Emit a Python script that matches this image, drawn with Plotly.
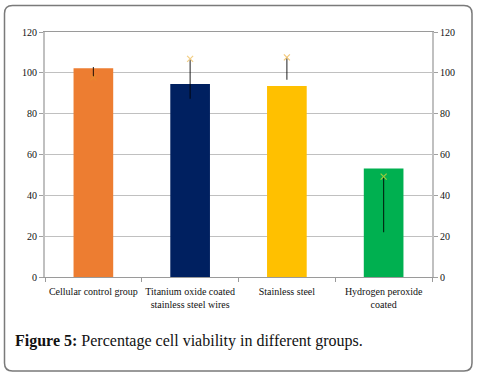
import plotly.graph_objects as go

categories = ["Cellular control group", "Titanium oxide coated<br>stainless steel wires",
              "Stainless steel", "Hydrogen peroxide<br>coated"]
viability = [102.2, 94.5, 93.5, 53.1]
marker_vals = [97.8, 106.8, 107.6, 49.2]
err_plus = [5.0, 0, 0, 0]
err_minus = [0, 19.5, 11.0, 27.3]
bar_colors = ["#ED7D31", "#002060", "#FFC000", "#00B050"]
marker_colors = ["#E88B2E", "#F3CF86", "#F3C97A", "#9CCB3C"]
y_ticks = [0, 20, 40, 60, 80, 100, 120]

W, H = 480, 376
ML, MR, MT, MB = 45, 48, 32, 99
PW, PH = W - ML - MR, H - MT - MB

def px2paper(x, y):
    return (x - ML) / PW, (H - MB - y) / PH

fig = go.Figure()
fig.add_trace(go.Bar(x=categories, y=viability, marker=dict(color=bar_colors, line=dict(width=0)),
                     showlegend=False, hoverinfo="skip"))
fig.add_trace(go.Scatter(x=categories, y=marker_vals, mode="markers",
                         marker=dict(symbol="x-thin", size=6, line=dict(width=1.2, color=marker_colors)),
                         error_y=dict(type="data", symmetric=False, array=err_plus, arrayminus=err_minus,
                                      width=0, thickness=1.1, color="rgba(0,0,0,0.8)"),
                         showlegend=False, hoverinfo="skip"))
fig.add_trace(go.Scatter(x=categories, y=viability, mode="lines", opacity=0, yaxis="y2",
                         showlegend=False, hoverinfo="skip"))

# rounded border
x0, y0, x1, y1, r = 4.5, 5.5, 472, 371, 8
def P(x, y):
    a, b = px2paper(x, y)
    return f"{a:.5f},{b:.5f}"
path = (f"M {P(x0+r,y0)} L {P(x1-r,y0)} Q {P(x1,y0)} {P(x1,y0+r)} L {P(x1,y1-r)} "
        f"Q {P(x1,y1)} {P(x1-r,y1)} L {P(x0+r,y1)} Q {P(x0,y1)} {P(x0,y1-r)} "
        f"L {P(x0,y0+r)} Q {P(x0,y0)} {P(x0+r,y0)} Z")
fig.add_shape(type="path", path=path, xref="paper", yref="paper",
              line=dict(color="#7a7a7a", width=1.5))

cx, cy = px2paper(13, 341)
fig.add_annotation(text="<b>Figure 5:</b> Percentage cell viability in different groups.",
                   xref="paper", yref="paper", x=cx, y=cy, xanchor="left", yanchor="middle",
                   showarrow=False, font=dict(size=16, color="#111", family="Liberation Serif"))

axis_font = dict(size=10, color="#111", family="Liberation Serif")
fig.update_layout(
    width=W, height=H, margin=dict(l=ML, r=MR, t=MT, b=MB),
    paper_bgcolor="white", plot_bgcolor="white",
    font=axis_font, bargap=0.59,
    xaxis=dict(showline=True, linecolor="#9a9a9a", linewidth=1.2, mirror=True,
               ticks="outside", tickson="boundaries", ticklen=4, tickcolor="#9a9a9a",
               tickangle=0, tickfont=axis_font, showgrid=False, ticklabelstandoff=5),
    yaxis=dict(range=[0, 120], tickvals=y_ticks, showline=True, linecolor="#c0c0c0", linewidth=2,
               ticks="outside", ticklen=4, tickcolor="#a0a0a0", showgrid=True,
               gridcolor="#c0c0c0", gridwidth=1, zeroline=False, tickfont=axis_font),
    yaxis2=dict(range=[0, 120], tickvals=y_ticks, overlaying="y", side="right", showline=True,
                linecolor="#c0c0c0", linewidth=2, ticks="outside", ticklen=4, tickcolor="#a0a0a0",
                showgrid=False, zeroline=False, tickfont=axis_font),
)
fig.write_html("out.html", config={"displayModeBar": False},
               post_script="document.body.style.margin='0px';document.body.style.overflow='hidden';")
